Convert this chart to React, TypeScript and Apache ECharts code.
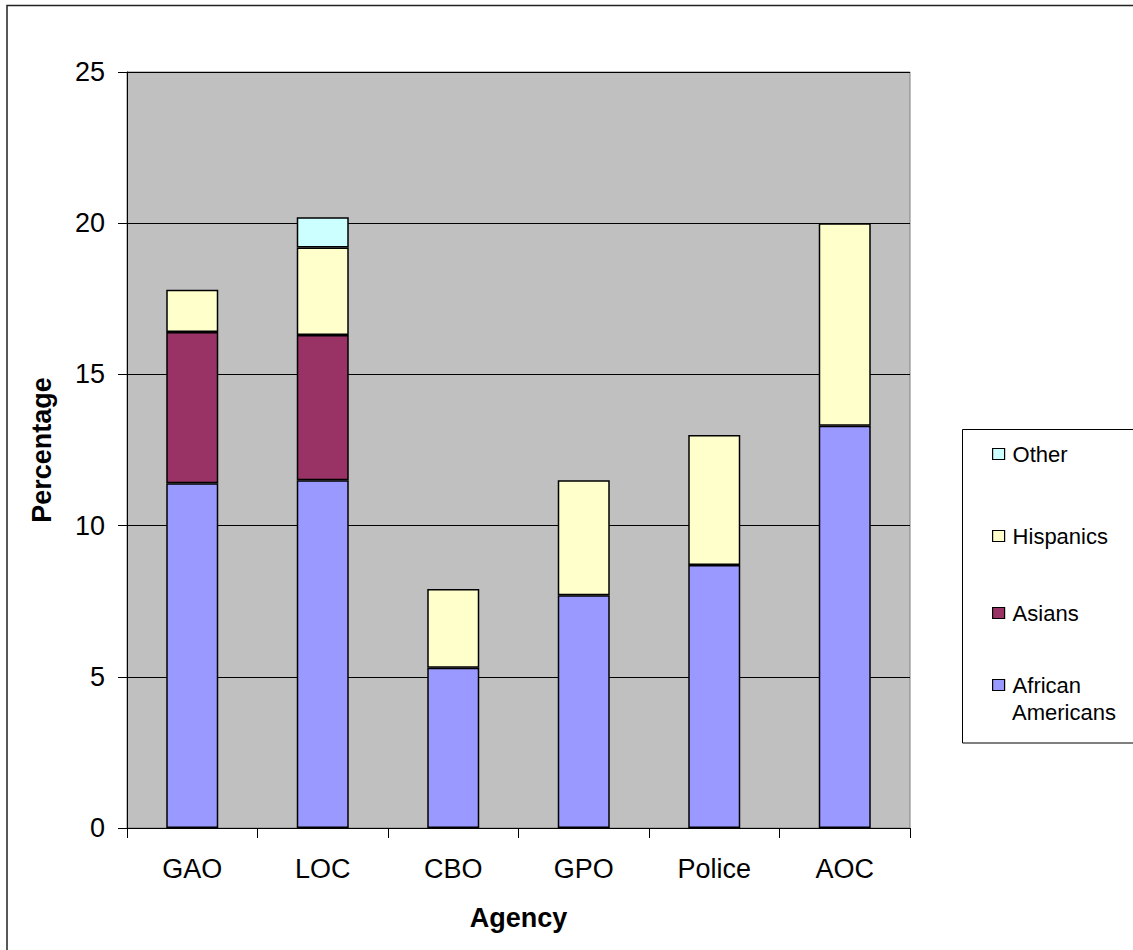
import React, { useEffect, useRef } from "react";
import * as echarts from "echarts";

const categories = ["GAO", "LOC", "CBO", "GPO", "Police", "AOC"];
const africanAmericans = [11.4, 11.5, 5.3, 7.7, 8.7, 13.3];
const asians = [5.0, 4.8, 0, 0, 0, 0];
const hispanics = [1.4, 2.9, 2.6, 3.8, 4.3, 6.7];
const other = [0, 1.0, 0, 0, 0, 0];
const yTicks = { min: 0, max: 25, interval: 5 };

const FONT = "'Liberation Sans', Arial, sans-serif";

const seriesDefs = [
  { name: "African Americans", data: africanAmericans, color: "#9999ff" },
  { name: "Asians", data: asians, color: "#993366" },
  { name: "Hispanics", data: hispanics, color: "#ffffcc" },
  { name: "Other", data: other, color: "#ccffff" },
];

const legendTops: Record<string, number> = {
  Other: 441,
  Hispanics: 523,
  Asians: 600,
  "African Americans": 672,
};

export default function App() {
  const ref = useRef<HTMLDivElement>(null);
  useEffect(() => {
    if (!ref.current) return;
    const chart = echarts.init(ref.current, undefined, { renderer: "svg" });
    const legends = seriesDefs.map((s) => {
      const isAA = s.name === "African Americans";
      return {
        data: [s.name],
        orient: "vertical",
        left: 992,
        top: legendTops[s.name],
        padding: 0,
        itemWidth: 12,
        itemHeight: 11,
        itemGap: 0,
        selectedMode: false,
        icon: "rect",
        itemStyle: { borderColor: "#000", borderWidth: 1.2 },
        formatter: isAA ? "African" : "{name}",
        textStyle: { fontFamily: FONT, fontSize: 22, color: "#000", lineHeight: 26, padding: [0, 0, 0, 3] },
        z: 10,
      };
    });
    chart.setOption({
      animation: false,
      backgroundColor: "#ffffff",
      textStyle: { fontFamily: FONT },
      graphic: [
        {
          type: "rect",
          z: 0,
          shape: { x: 7, y: 5.5, width: 1200, height: 1000 },
          style: { fill: "none", stroke: "#222", lineWidth: 1.5 },
        },
        {
          type: "rect",
          z: 1,
          shape: { x: 962.5, y: 429.5, width: 300, height: 313.5 },
          style: { fill: "#fff", stroke: "#000", lineWidth: 1 },
        },
        {
          type: "text",
          z: 11,
          x: 1012,
          y: 712,
          style: {
            text: "Americans",
            fontFamily: FONT,
            fontSize: 22,
            fill: "#000",
            verticalAlign: "middle",
            align: "left",
          },
        },
      ],
      legend: legends,
      grid: {
        left: 127,
        top: 72,
        width: 783,
        height: 756,
        show: true,
        backgroundColor: "#c0c0c0",
        borderColor: "#808080",
        borderWidth: 1,
        containLabel: false,
      },
      xAxis: {
        type: "category",
        data: categories,
        name: "Agency",
        nameLocation: "middle",
        nameGap: 76,
        nameTextStyle: { fontFamily: FONT, fontSize: 27, fontWeight: "bold", color: "#000" },
        axisLine: { show: true, lineStyle: { color: "#000", width: 1 } },
        axisTick: { show: true, inside: false, length: 10, lineStyle: { color: "#000" } },
        axisLabel: { fontFamily: FONT, fontSize: 27, color: "#000", margin: 27 },
        splitLine: { show: false },
      },
      yAxis: {
        type: "value",
        min: yTicks.min,
        max: yTicks.max,
        interval: yTicks.interval,
        name: "Percentage",
        nameLocation: "middle",
        nameGap: 72,
        nameRotate: 90,
        nameTextStyle: { fontFamily: FONT, fontSize: 27, fontWeight: "bold", color: "#000" },
        axisLine: { show: true, lineStyle: { color: "#000", width: 1 } },
        axisTick: { show: true, inside: false, length: 9, lineStyle: { color: "#000" } },
        axisLabel: { fontFamily: FONT, fontSize: 27, color: "#000", margin: 22 },
        splitLine: { show: true, lineStyle: { color: "#000", width: 1 } },
      },
      series: seriesDefs.map((s) => ({
        name: s.name,
        type: "bar",
        stack: "total",
        barWidth: 52,
        data: s.data.map((v) => (v === 0 ? "-" : v)),
        itemStyle: { color: s.color, borderColor: "#000", borderWidth: 1.5 },
      })),
    });
    return () => chart.dispose();
  }, []);
  return (
    <div
      ref={ref}
      style={{ position: "absolute", left: 0, top: 0, width: 1133, height: 950 }}
    />
  );
}
